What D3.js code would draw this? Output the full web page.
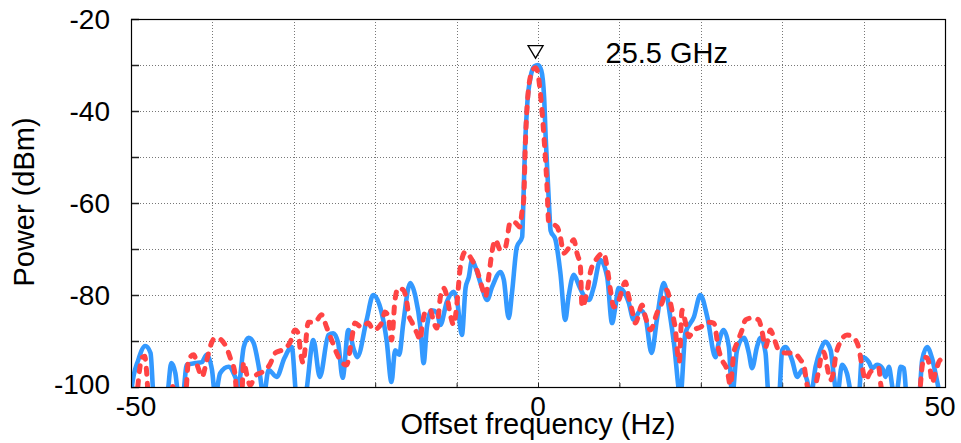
<!DOCTYPE html>
<html lang="en">
<head>
    <meta charset="UTF-8">
    <title>Offset frequency spectrum (D3.js)</title>
    <script src="https://d3js.org/d3.v7.min.js"></script>
    <style>
        body {
            margin: 0;
            background: white;
            font-family: "Liberation Sans", Arial, sans-serif;
        }
        .grid line {
            stroke: #777;
            stroke-width: 1;
            stroke-dasharray: 1,2;
            shape-rendering: crispEdges;
        }
        .tick-label {
            font-size: 28px;
            fill: black;
        }
        .axis-title {
            font-size: 29px;
            fill: black;
        }
    </style>
</head>
<body>
    <svg width="961" height="443"></svg>

    <script>
        // tick values and labels
        const xTicks = [-50, 0, 50];
        const yTicks = [-100, -80, -60, -40, -20];
        const xGrid = [-40, -30, -20, -10, 0, 10, 20, 30, 40];
        const yGrid = [-90, -80, -70, -60, -50, -40, -30];

        // marker annotation
        const markerHz = -0.3, markerDb = -27.1;
        const markerText = "25.5 GHz";
        const markerTextHz = 8.3, markerTextDb = -29.5;

        // solid trace [offset Hz, power dBm] (values below -100 fall off the plot)
        const solidTrace = [
            [-50,-102],[-49.9,-100],[-49.1,-94.1],[-48.25,-91.1],[-47.6,-92.6],[-47.2,-102],
            [-45.6,-102],[-45.05,-94.8],[-44.55,-97],[-44.15,-102],
            [-43.65,-102],[-43.15,-95.2],[-42.1,-94.8],[-41.3,-94.6],[-40.7,-93],[-40.05,-96.3],[-39.65,-102],
            [-39.05,-97],[-38,-95.6],[-37.2,-97.8],[-36.8,-99.6],[-36.15,-91.3],[-35.55,-89.3],[-34.95,-90.4],[-34.3,-95.6],[-33.7,-102],
            [-33.1,-96.3],[-32.1,-97.8],[-31.15,-93.7],[-30.25,-91.3],[-29.65,-102],[-28.65,-102],
            [-27.6,-89.8],[-26.8,-97.8],[-25.75,-88.7],[-25.15,-88.3],[-24.55,-90.4],[-24,-98],
            [-23.3,-87.6],[-22.6,-92],[-22.2,-93.5],[-21.05,-85.4],[-20.25,-80],[-19.2,-83.9],[-18.6,-89.8],[-18,-98.9],
            [-17.55,-92],[-17.05,-93],[-16.55,-86.1],[-15.7,-77.4],[-15.05,-80.4],[-14.45,-87],[-14.05,-94.8],
            [-13.65,-87],[-13.05,-83.3],[-12.4,-83.9],[-12,-86.5],[-11.2,-81.5],[-10.35,-79.3],[-9.95,-81.1],[-9.35,-88.7],
            [-8.9,-78.5],[-8.5,-76.1],[-8.1,-72.4],[-7.7,-73.9],[-6.9,-78.3],[-6.25,-81.1],[-5.65,-78.3],[-4.6,-75],[-4.2,-76.7],
            [-3.6,-85],[-3.2,-79.6],[-2.6,-69.6],[-1.95,-67.4],[-1.8,-60],[-1.6,-48],[-1.3,-38],[-0.9,-32.5],[-0.45,-30.3],
            [0,-30],[0.4,-31.2],[0.75,-37],[0.95,-46],[1.2,-55],[1.4,-62],[1.55,-66],
            [2.15,-68],[2.75,-75.2],[3.35,-85.4],[3.75,-80.4],[4.4,-75.6],[5,-77.8],[5.6,-80],[6.25,-81.1],[6.85,-78.3],
            [7.65,-72.4],[8.5,-76.1],[9.1,-86.1],[9.5,-82.6],[9.9,-78.5],[10.55,-79.3],[11.15,-81.7],[11.75,-85.4],
            [12.6,-83.3],[13.2,-84.8],[13.95,-92.6],[14.6,-85.4],[15.25,-78.3],[15.45,-77.4],[16.25,-84.8],[16.7,-90.4],[17.5,-102],
            [18.1,-88.3],[19.15,-84.8],[19.95,-80],[20.8,-84.8],[21.8,-93.5],[22.2,-90.4],[22.8,-87.6],[23.45,-91.3],[23.85,-102],
            [24.45,-92],[25.3,-89.3],[25.9,-92.6],[26.3,-95.9],[26.9,-91.3],[27.35,-89.3],[27.95,-92.6],[28.35,-102],
            [29.6,-102],[30,-92],[30.4,-91.3],[31.2,-94.1],[31.85,-97.8],[32.45,-96.3],[33.05,-98.5],[33.5,-102],
            [34.1,-95.6],[34.7,-92],[35.3,-90.2],[35.95,-92],[36.35,-97.8],[36.75,-102],
            [37.35,-95.2],[37.95,-97],[38.6,-102],[39.4,-102],[39.8,-93.5],[40.65,-94.6],[41.05,-95.9],[41.65,-95.2],
            [42.3,-95.9],[42.7,-97.8],[43.1,-95.6],[43.65,-100.5],[44.1,-100.5],[44.55,-95.6],[44.95,-95.9],[45.3,-102],
            [46.8,-102],[47.2,-94.1],[47.8,-91.3],[48.4,-93.7],[49.05,-98.9],[49.45,-102],[50,-102]
        ];

        // dashed trace [offset Hz, power dBm]
        const dashedTrace = [
            [-50,-102],[-49.35,-102],[-48.95,-96.3],[-48.7,-93.7],[-48.3,-93.3],[-48.1,-96.3],[-47.85,-102],
            [-45.7,-102],[-45,-99.6],[-44.4,-102],
            [-43.33,-102],[-42.93,-94.1],[-42.31,-93],[-41.74,-95.9],[-41.29,-97.8],[-40.68,-94.1],[-40.31,-91.5],
            [-39.86,-89.6],[-39.45,-89.3],[-38.42,-90.9],[-37.8,-93.7],[-37.24,-97],[-36.97,-102],
            [-36.41,-102],[-36.17,-94.6],[-35.76,-97.4],[-35.37,-99.6],[-34.75,-97.6],[-33.83,-96.7],[-32.97,-95.2],
            [-32.27,-92.6],[-31.5,-92],[-30.48,-90.4],[-29.86,-87.6],[-29.41,-88.5],[-29.25,-91.3],[-28.83,-94.8],
            [-28.63,-92],[-28.22,-85.9],[-27.41,-85.9],[-26.58,-84.3],[-25.97,-87],[-25.35,-89.8],[-24.74,-92.6],
            [-24.12,-94.6],[-23.51,-95.2],[-22.9,-89.8],[-22.49,-86.1],[-21.67,-87],[-20.84,-86.1],[-20.23,-87.6],
            [-19.21,-86.1],[-18.8,-83.7],[-18.39,-84.8],[-17.98,-89.8],[-17.57,-81.1],[-17.16,-78.5],[-16.54,-78.9],
            [-16.1,-81.7],[-15.89,-84.3],[-15.49,-85.9],[-14.87,-88.3],[-14.45,-89.8],[-14.26,-87],[-13.84,-83.7],
            [-13.22,-83.3],[-12.82,-85.9],[-12.41,-87.2],[-12.2,-83.9],[-11.99,-80.4],[-11.59,-78.5],[-11.18,-80.4],
            [-10.77,-84.3],[-10.36,-86.5],[-9.95,-81.7],[-9.54,-73.9],[-8.92,-70.6],[-8.11,-72.4],[-7.5,-74.6],
            [-6.88,-78.3],[-6.46,-80.4],[-6.06,-76.1],[-5.65,-70.6],[-5.24,-68],[-4.62,-70.2],[-4.01,-69.6],
            [-3.39,-64.1],[-2.78,-64.3],[-2.25,-65.2],[-1.97,-62],[-1.76,-59.3],[-1.55,-47],[-1.14,-34.8],
            [-0.65,-31.1],[-0.32,-30.6],[-0.04,-31.5],[0.21,-34.8],[0.7,-44.8],[1.11,-56.5],[1.31,-64.1],
            [2.34,-65.2],[2.75,-67.4],[3.16,-70.9],[3.77,-69.8],[4.39,-68],[4.79,-70.9],[5.21,-73.9],[5.41,-82.6],
            [6.02,-79.3],[6.44,-75],[7.25,-72],[8.07,-70.9],[8.48,-73.9],[8.9,-78.9],[9.3,-82.6],[9.92,-81.1],
            [10.74,-77.2],[11.15,-80.4],[11.55,-83.3],[11.97,-86.1],[12.78,-82.2],[13.2,-84.8],[13.81,-87.6],
            [14.62,-83.9],[15.24,-81.7],[15.82,-78.9],[16.27,-81.7],[16.68,-85.4],[16.89,-87.6],[17.08,-91.5],
            [17.35,-94.6],[17.7,-83.3],[18.11,-85.9],[18.52,-89.1],[19.13,-87.6],[19.96,-87],[20.77,-85.9],
            [21.59,-86.1],[22.21,-92],[22.61,-94.1],[23.23,-96.3],[23.64,-99.6],[24.05,-92.6],[24.46,-90.4],
            [25.07,-87.6],[25.49,-85.4],[26.3,-85],[27.12,-85.4],[27.53,-88],[27.95,-91.3],[28.56,-87.6],
            [28.97,-89.3],[29.58,-92],[30.4,-92.6],[31.42,-92.6],[32.25,-94.1],[32.65,-95.2],[33.06,-99.6],
            [33.5,-102],[34.09,-99.6],[34.5,-96.3],[34.9,-92.6],[35.11,-92.4],[35.52,-95.6],[35.93,-98.5],
            [36.34,-96.3],[36.55,-93.5],[36.96,-90.9],[37.97,-88.7],[39.01,-89.8],[39.41,-91.5],[39.82,-95.6],
            [40.24,-98.5],[40.85,-96.7],[41.87,-95.9],[42.08,-99.1],[42.48,-102],[46.79,-102],[47.19,-95.6],
            [47.4,-93.5],[47.81,-93.7],[48.22,-96.7],[48.42,-99.1],[48.84,-96.7],[49.45,-94.1],[50,-94.6]
        ];

        const margin = { top: 19, right: 16, bottom: 56, left: 131 },
              width = 961 - margin.left - margin.right,
              height = 443 - margin.top - margin.bottom;

        const svg = d3.select("svg")
                      .append("g")
                      .attr("transform", `translate(${margin.left},${margin.top})`);

        const xScale = d3.scaleLinear().domain([-50, 50]).range([0, width]);
        const yScale = d3.scaleLinear().domain([-100, -20]).range([height, 0]);

        svg.append("defs").append("clipPath")
           .attr("id", "plot-clip")
           .append("rect")
           .attr("width", width)
           .attr("height", height);

        // dotted grid
        svg.append("g")
           .attr("class", "grid")
           .selectAll("line")
           .data(yGrid)
           .join("line")
           .attr("x1", 0).attr("x2", width)
           .attr("y1", d => Math.round(yScale(d)) + 0.5)
           .attr("y2", d => Math.round(yScale(d)) + 0.5);

        svg.append("g")
           .attr("class", "grid")
           .selectAll("line")
           .data(xGrid)
           .join("line")
           .attr("y1", 0).attr("y2", height)
           .attr("x1", d => Math.round(xScale(d)) + 0.5)
           .attr("x2", d => Math.round(xScale(d)) + 0.5);

        // inner tick marks
        svg.append("g")
           .call(d3.axisLeft(yScale).tickValues(d3.range(-100, -19, 10)).tickSize(-8).tickFormat(""))
           .call(g => g.select(".domain").remove())
           .selectAll("line").attr("stroke", "#222").attr("stroke-width", 1.5);

        svg.append("g")
           .attr("transform", `translate(0,${height})`)
           .call(d3.axisBottom(xScale).tickValues(d3.range(-50, 51, 10)).tickSize(-4).tickFormat(""))
           .call(g => g.select(".domain").remove())
           .selectAll("line").attr("stroke", "#222");

        // traces
        const line = d3.line()
                       .x(d => xScale(d[0]))
                       .y(d => yScale(d[1]))
                       .curve(d3.curveMonotoneX);

        const traces = svg.append("g").attr("clip-path", "url(#plot-clip)");

        traces.append("path")
              .datum(solidTrace)
              .attr("d", line)
              .attr("fill", "none")
              .attr("stroke", "#3399ff")
              .attr("stroke-width", 4.6)
              .attr("stroke-linejoin", "round");

        traces.append("path")
              .datum(dashedTrace)
              .attr("d", line)
              .attr("fill", "none")
              .attr("stroke", "#ff4444")
              .attr("stroke-width", 5)
              .attr("stroke-linecap", "round")
              .attr("stroke-dasharray", "6,9");

        // frame
        svg.append("rect")
           .attr("x", 0.5).attr("y", 0.5)
           .attr("width", width).attr("height", height)
           .attr("fill", "none")
           .attr("stroke", "black")
           .attr("stroke-width", 1.2);

        // tick labels
        svg.append("g")
           .selectAll("text")
           .data(yTicks)
           .join("text")
           .attr("class", "tick-label")
           .attr("text-anchor", "end")
           .attr("x", -21)
           .attr("y", d => Math.min(yScale(d) + 10, height + 7))
           .text(d => d);

        svg.append("g")
           .selectAll("text")
           .data(xTicks)
           .join("text")
           .attr("class", "tick-label")
           .attr("text-anchor", "middle")
           .attr("x", (d, i) => xScale(d) + (i === 0 ? 5 : i === xTicks.length - 1 ? -5 : 0))
           .attr("y", height + 29)
           .text(d => d);

        // axis titles
        svg.append("text")
           .attr("class", "axis-title")
           .attr("text-anchor", "middle")
           .attr("x", width / 2)
           .attr("y", height + 47)
           .text("Offset frequency (Hz)");

        svg.append("text")
           .attr("class", "axis-title")
           .attr("text-anchor", "middle")
           .attr("transform", "rotate(-90)")
           .attr("x", -(202 - margin.top))
           .attr("y", -97)
           .text("Power (dBm)");

        // peak marker
        svg.append("path")
           .attr("transform", `translate(${xScale(markerHz)},${yScale(markerDb)})`)
           .attr("d", "M-7.5,-6 L7.5,-6 L0,6.5 Z")
           .attr("fill", "white")
           .attr("stroke", "black")
           .attr("stroke-width", 1.3);

        svg.append("text")
           .attr("class", "axis-title")
           .attr("x", xScale(markerTextHz))
           .attr("y", yScale(markerTextDb))
           .text(markerText);
    </script>
</body>
</html>
